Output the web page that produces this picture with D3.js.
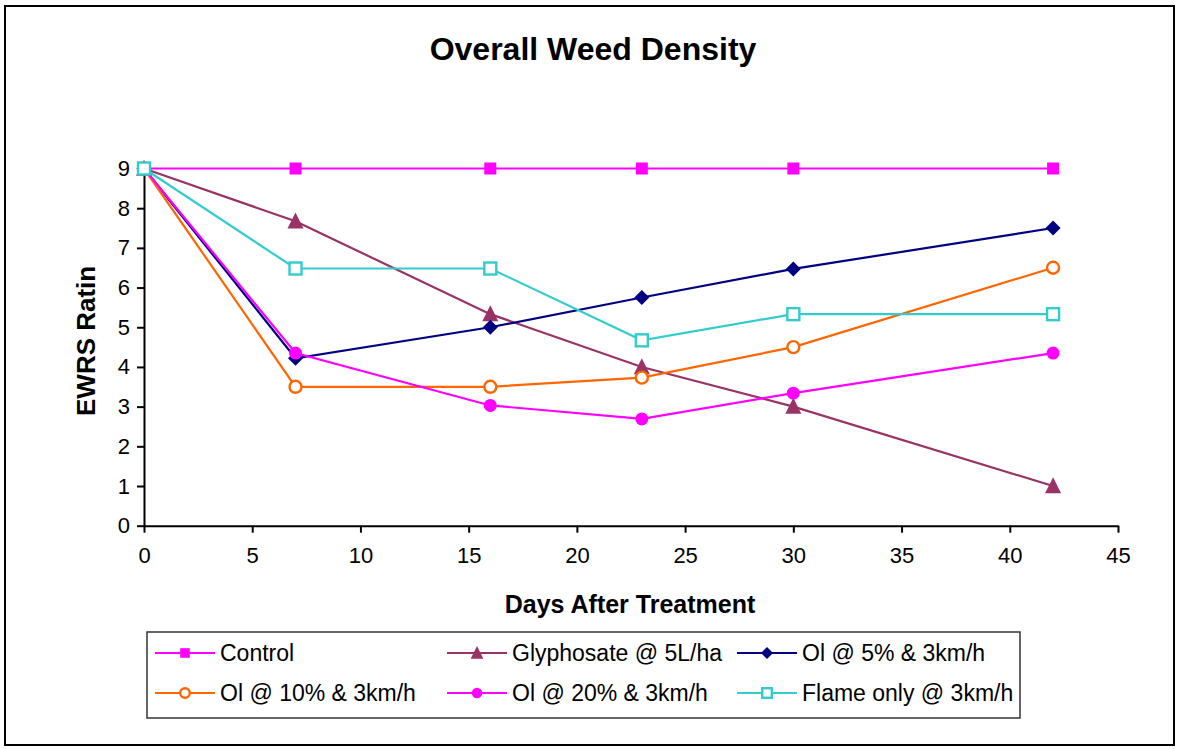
<!DOCTYPE html>
<html>
<head>
<meta charset="utf-8">
<script src="https://cdn.jsdelivr.net/npm/d3@7"></script>
<style>
  body { margin: 0; background: #fff; }
  text { font-family: "Liberation Sans", Arial, sans-serif; }
</style>
</head>
<body>
<div id="chart"></div>
<script>
const days = [0, 7, 16, 23, 30, 42];
const seriesNames = ["Control", "Glyphosate @ 5L/ha", "Ol @ 5% & 3km/h",
                     "Ol @ 10% & 3km/h", "Ol @ 20% & 3km/h", "Flame only @ 3km/h"];
const control    = [9, 9, 9, 9, 9, 9];
const glyphosate = [9, 7.67, 5.33, 4, 3, 1];
const ol5        = [9, 4.22, 5, 5.75, 6.47, 7.5];
const ol10       = [9, 3.5, 3.5, 3.73, 4.5, 6.5];
const ol20       = [9, 4.35, 3.03, 2.69, 3.34, 4.35];
const flame      = [9, 6.48, 6.48, 4.67, 5.33, 5.33];
const xTicks = [0, 5, 10, 15, 20, 25, 30, 35, 40, 45];
const yTicks = [0, 1, 2, 3, 4, 5, 6, 7, 8, 9];

const styles = [
  { color: "#FF00FF", shape: "square",   fill: "#FF00FF", size: 12 },
  { color: "#993366", shape: "triangle", fill: "#993366", size: 16 },
  { color: "#000080", shape: "diamond",  fill: "#000080", size: 15 },
  { color: "#FF6600", shape: "circle",   fill: "#fff",    size: 12 },
  { color: "#FF00FF", shape: "circle",   fill: "#FF00FF", size: 13 },
  { color: "#33CCCC", shape: "square",   fill: "#fff",    size: 12 }
];

const allValues = [control, glyphosate, ol5, ol10, ol20, flame];
const series = seriesNames.map((name, i) => ({
  name: name,
  style: styles[i],
  points: days.map((d, j) => ({ day: d, value: allValues[i][j] }))
}));

const W = 1177, H = 749;
const svg = d3.select("#chart").append("svg")
  .attr("width", W).attr("height", H);

svg.append("rect")
  .attr("x", 5).attr("y", 6).attr("width", 1169).attr("height", 739)
  .attr("fill", "#fff").attr("stroke", "#000").attr("stroke-width", 2);

svg.append("text")
  .attr("x", 593).attr("y", 60)
  .attr("text-anchor", "middle")
  .attr("font-size", 32).attr("font-weight", "bold")
  .text("Overall Weed Density");

const x = d3.scaleLinear().domain([0, 45]).range([144, 1118]);
const y = d3.scaleLinear().domain([0, 9]).range([525.7, 168.5]);

// axes
const xAxis = svg.append("g")
  .attr("transform", `translate(0,${y(0)})`)
  .call(d3.axisBottom(x).tickValues(xTicks).tickSize(7).tickPadding(15).tickSizeOuter(0));
const yAxis = svg.append("g")
  .attr("transform", `translate(${x(0)},0)`)
  .call(d3.axisLeft(y).tickValues(yTicks).tickSize(7).tickPadding(7).tickSizeOuter(0));

[xAxis, yAxis].forEach(a => {
  a.select(".domain").attr("stroke", "#000").attr("stroke-width", 2);
  a.selectAll(".tick line").attr("stroke", "#000").attr("stroke-width", 2);
  a.selectAll(".tick text").attr("font-size", 22).attr("fill", "#000")
    .style("font-family", "'Liberation Sans', Arial, sans-serif");
});

svg.append("text")
  .attr("x", 630).attr("y", 613)
  .attr("text-anchor", "middle")
  .attr("font-size", 25).attr("font-weight", "bold")
  .text("Days After Treatment");

// y label, cut off at the top like the original
svg.append("clipPath").attr("id", "ylabClip")
  .append("rect").attr("x", 60).attr("y", 266).attr("width", 50).attr("height", 200);
svg.append("g").attr("clip-path", "url(#ylabClip)")
  .append("text")
  .attr("transform", "translate(95,416) rotate(-90)")
  .attr("text-anchor", "start")
  .attr("font-size", 26).attr("font-weight", "bold")
  .text("EWRS Rating");

function drawMarker(g, st, cx, cy) {
  const s = st.size;
  let m;
  if (st.shape === "square") {
    m = g.append("rect").attr("x", cx - s / 2).attr("y", cy - s / 2)
      .attr("width", s).attr("height", s);
  } else if (st.shape === "circle") {
    m = g.append("circle").attr("cx", cx).attr("cy", cy).attr("r", s / 2);
  } else if (st.shape === "triangle") {
    m = g.append("path").attr("d",
      `M${cx},${cy - s * 0.55} L${cx + s / 2},${cy + s * 0.45} L${cx - s / 2},${cy + s * 0.45} Z`);
  } else {
    m = g.append("path").attr("d",
      `M${cx},${cy - s / 2} L${cx + s / 2},${cy} L${cx},${cy + s / 2} L${cx - s / 2},${cy} Z`);
  }
  const open = st.fill === "#fff";
  m.attr("fill", st.fill).attr("stroke", st.color).attr("stroke-width", open ? 2.4 : 0);
}

const line = d3.line().x(d => x(d.day)).y(d => y(d.value));

series.forEach(s => {
  const g = svg.append("g");
  g.append("path").datum(s.points)
    .attr("d", line).attr("fill", "none")
    .attr("stroke", s.style.color).attr("stroke-width", 2.2);
  s.points.forEach(p => drawMarker(g, s.style, x(p.day), y(p.value)));
});

// legend
svg.append("rect")
  .attr("x", 147).attr("y", 632).attr("width", 873).attr("height", 86)
  .attr("fill", "#fff").attr("stroke", "#333").attr("stroke-width", 1.5);

const colX = [155, 447, 737];
const rowY = [653, 693];
series.forEach((s, i) => {
  const lx = colX[i % 3], ly = rowY[Math.floor(i / 3)];
  const g = svg.append("g");
  g.append("line").attr("x1", lx).attr("x2", lx + 60)
    .attr("y1", ly).attr("y2", ly)
    .attr("stroke", s.style.color).attr("stroke-width", 2.2);
  const st = Object.assign({}, s.style, { size: s.style.size * 0.8 });
  drawMarker(g, st, lx + 30, ly);
  g.append("text").attr("x", lx + 65).attr("y", ly + 8)
    .attr("font-size", 23).text(s.name);
});
</script>
</body>
</html>
